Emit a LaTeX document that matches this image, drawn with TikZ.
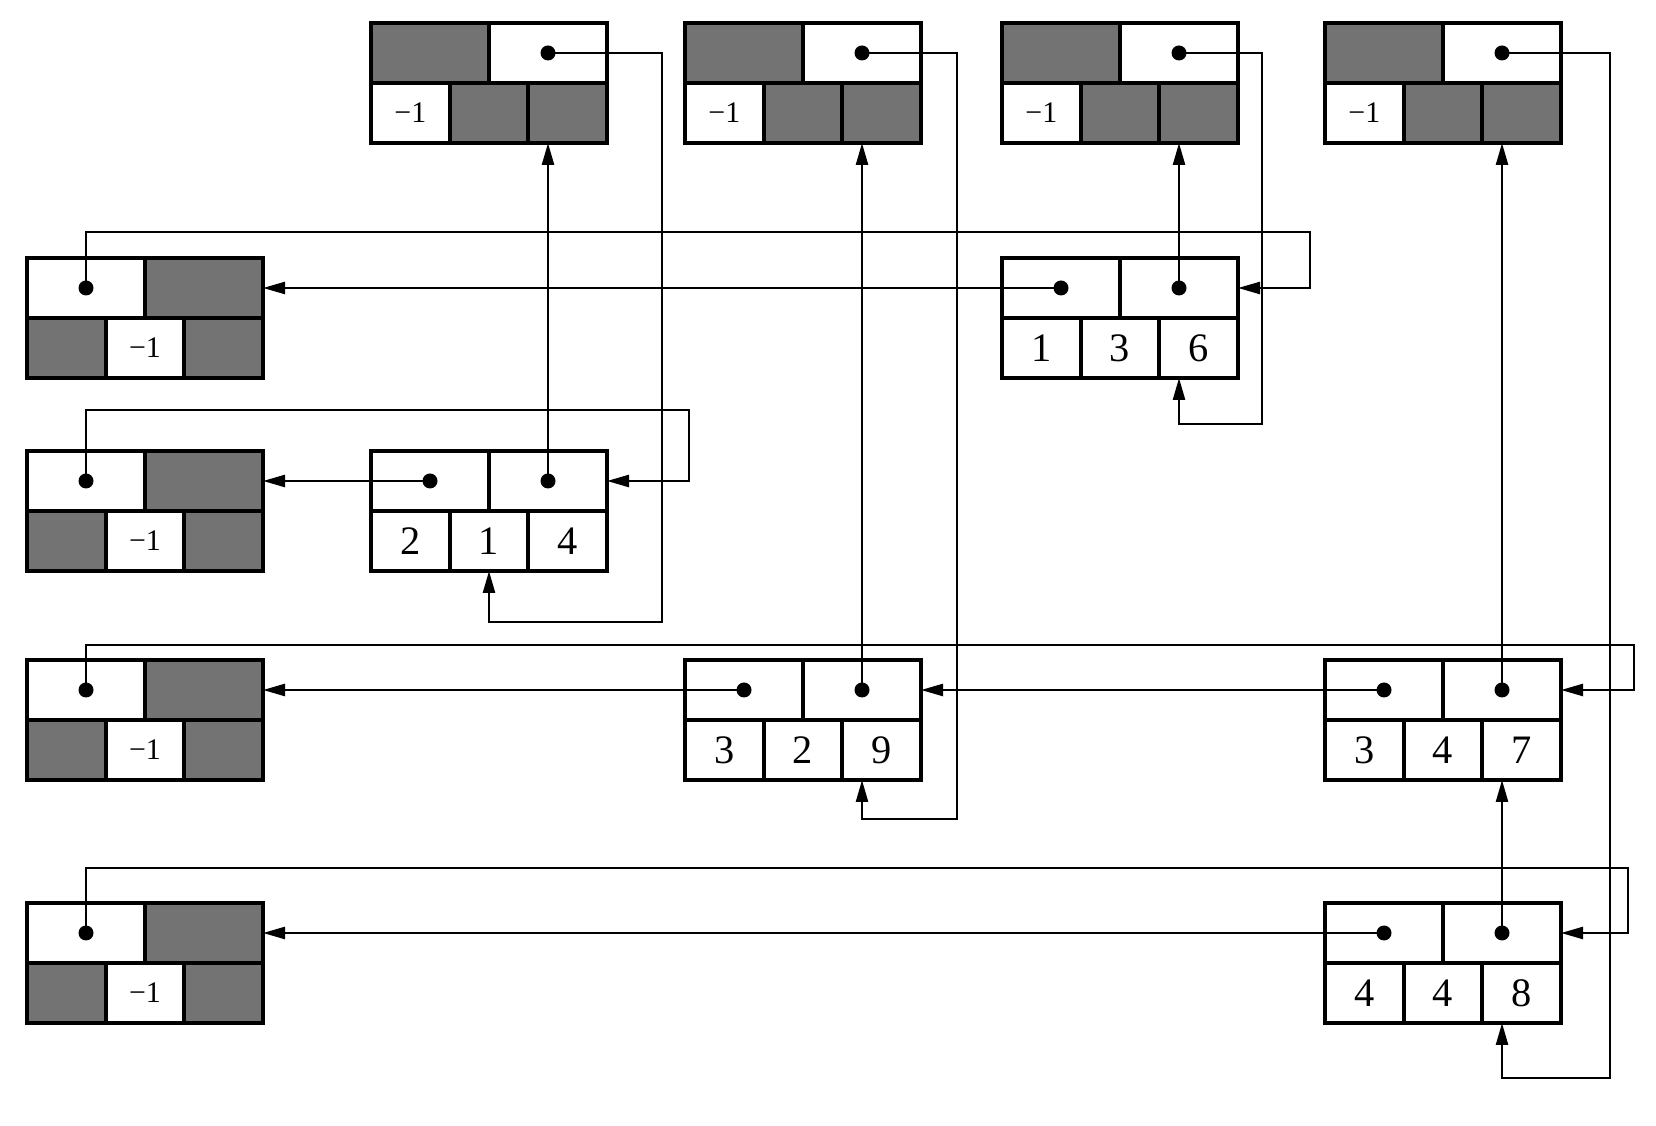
\documentclass[tikz,border=0pt]{standalone}
\usepackage{fontspec}
\setmainfont{Liberation Serif}
\usetikzlibrary{arrows.meta}

\begin{document}
\begin{tikzpicture}[x=0.1mm,y=0.1mm,
  box/.style={draw,line width=1.1pt,inner sep=0pt,outer sep=0pt},
  half/.style={box,minimum width=11.8mm,minimum height=6mm},
  third/.style={box,minimum width=7.867mm,minimum height=6mm,font=\fontsize{11.5}{12}\selectfont},
  shd/.style={fill=black!55},
  neg/.style={font=\fontsize{8.5}{10}\selectfont},
  ptr/.style={line width=0.7pt,-{Triangle[length=2.2mm,width=1.2mm]}},
  pics/colhead/.style={code={
    \node[half,shd] (-l) at (-59,30) {};
    \node[half] (-r) at (59,30) {};
    \node[third,neg] (-a) at (-78.67,-30) {−1};
    \node[third,shd] (-b) at (0,-30) {};
    \node[third,shd] (-c) at (78.67,-30) {};
    \fill (59,30) circle (0.75mm);
  }},
  pics/rowhead/.style={code={
    \node[half] (-l) at (-59,30) {};
    \node[half,shd] (-r) at (59,30) {};
    \node[third,shd] (-a) at (-78.67,-30) {};
    \node[third,neg] (-b) at (0,-30) {−1};
    \node[third,shd] (-c) at (78.67,-30) {};
    \fill (-59,30) circle (0.75mm);
  }},
  pics/elem/.style n args={3}{code={
    \node[half] (-l) at (-59,30) {};
    \node[half] (-r) at (59,30) {};
    \node[third] (-a) at (-78.67,-30) {#1};
    \node[third] (-b) at (0,-30) {#2};
    \node[third] (-c) at (78.67,-30) {#3};
    \fill (-59,30) circle (0.75mm);
    \fill (59,30) circle (0.75mm);
  }}]
  \useasboundingbox (0,0) rectangle (1656,1125);

  % column heads and row heads
  \pic (c1) at (489,1042) {colhead};
  \pic (c2) at (803,1042) {colhead};
  \pic (c3) at (1120,1042) {colhead};
  \pic (c4) at (1443,1042) {colhead};
  \pic (r1) at (145,807) {rowhead};
  \pic (r2) at (145,614) {rowhead};
  \pic (r3) at (145,405) {rowhead};
  \pic (r4) at (145,162) {rowhead};

  % the nonzero entries
  \pic (e136) at (1120,807) {elem={1}{3}{6}};
  \pic (e214) at (489,614) {elem={2}{1}{4}};
  \pic (e329) at (803,405) {elem={3}{2}{9}};
  \pic (e347) at (1443,405) {elem={3}{4}{7}};
  \pic (e448) at (1443,162) {elem={4}{4}{8}};

  % corners of the loops
  \coordinate (k1) at (662,503);
  \coordinate (k2) at (957,306);
  \coordinate (k3) at (1262,701);
  \coordinate (k4) at (1610,47);
  \coordinate (m1) at (1310,893);
  \coordinate (m2) at (689,715);
  \coordinate (m3) at (1634,480);
  \coordinate (m4) at (1628,257);

  % down links
  \draw[ptr] (c1-r.center) -| (k1) -| (e214-b.south);
  \draw[ptr] (c2-r.center) -| (k2) -| (e329-r.center |- e329-c.south);
  \draw[ptr] (c3-r.center) -| (k3) -| (e136-r.center |- e136-c.south);
  \draw[ptr] (c4-r.center) -| (k4) -| (e448-r.center |- e448-c.south);
  \draw[ptr] (e214-r.center) -- (e214-r.center |- c1-c.south);
  \draw[ptr] (e329-r.center) -- (e329-r.center |- c2-c.south);
  \draw[ptr] (e136-r.center) -- (e136-r.center |- c3-c.south);
  \draw[ptr] (e347-r.center) -- (e347-r.center |- c4-c.south);
  \draw[ptr] (e448-r.center) -- (e448-r.center |- e347-c.south);

  % right links
  \draw[ptr] (r1-l.center) |- (m1) |- (e136-r.east);
  \draw[ptr] (r2-l.center) |- (m2) |- (e214-r.east);
  \draw[ptr] (r3-l.center) |- (m3) |- (e347-r.east);
  \draw[ptr] (r4-l.center) |- (m4) |- (e448-r.east);
  \draw[ptr] (e136-l.center) -- (r1-r.east);
  \draw[ptr] (e214-l.center) -- (r2-r.east);
  \draw[ptr] (e329-l.center) -- (r3-r.east);
  \draw[ptr] (e347-l.center) -- (e329-r.east);
  \draw[ptr] (e448-l.center) -- (r4-r.east);
\end{tikzpicture}
\end{document}
